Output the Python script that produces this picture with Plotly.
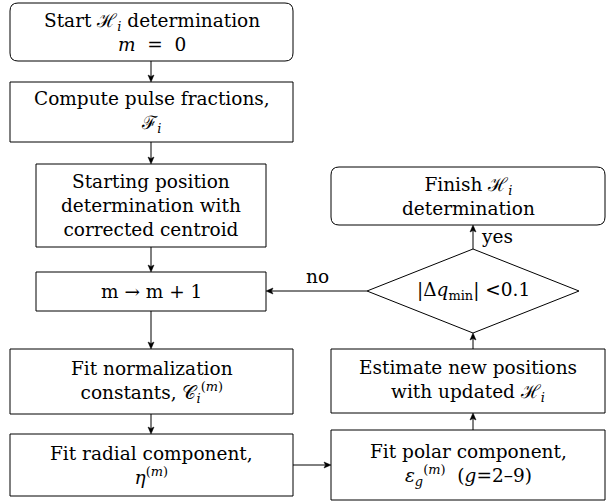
import plotly.graph_objects as go

# ---- content ----
node_labels = [
    "Start ℋ<sub><i>i</i></sub> determination<br><i>m</i>\u00a0\u00a0=\u00a0\u00a00",
    "Compute pulse fractions,<br>ℱ<sub><i>i</i></sub>",
    "Starting position<br>determination with<br>corrected centroid",
    "m → m + 1",
    "Fit normalization<br>constants, 𝒞<sub><i>i</i></sub><sup>(<i>m</i>)</sup>",
    "Fit radial component,<br><i>η</i><sup>(<i>m</i>)</sup>",
    "Fit polar component,<br><i>ε</i><sub><i>g</i></sub><sup>(<i>m</i>)</sup>\u00a0\u00a0(<i>g</i>=2–9)",
    "Estimate new positions<br>with updated ℋ<sub><i>i</i></sub>",
    "|Δ<i>q</i><sub>min</sub>| <0.1",
    "Finish ℋ<sub><i>i</i></sub><br>determination",
]
node_kinds = ["round", "box", "box", "box", "box", "box", "box", "box", "diamond", "round"]
edge_labels = ["", "", "", "", "", "", "", "", "yes", "no"]

# ---- layout geometry (pixels) ----
node_boxes = [
    (10, 3, 293, 61),
    (10, 82, 293, 142),
    (36, 164, 266, 247),
    (36, 272, 266, 311),
    (10, 349, 293, 414),
    (10, 434, 293, 496),
    (331, 430, 605, 500),
    (331, 349, 605, 413),
    (367, 249, 579, 333),
    (331, 167, 605, 225),
]
edges = [  # (tail x, tail y, head x, head y)
    (151, 61, 151, 82),
    (151, 142, 151, 164),
    (151, 247, 151, 272),
    (151, 311, 151, 349),
    (151, 414, 151, 434),
    (293, 465, 331, 465),
    (473, 430, 473, 413),
    (473, 349, 473, 333),
    (473, 249, 473, 225),
    (367, 291, 266, 291),
]
edge_label_pos = [None] * 8 + [(497, 236), (317, 276)]

FONT = dict(family="DejaVu Serif", size=18.5, color="black")
LINE = dict(color="black", width=1)

fig = go.Figure()
shapes = []
annotations = []

for kind, (x0, y0, x1, y1), label in zip(node_kinds, node_boxes, node_labels):
    if kind == "box":
        shapes.append(dict(type="rect", x0=x0, y0=y0, x1=x1, y1=y1,
                           xref="x", yref="y", line=LINE))
    elif kind == "round":
        r = 8
        path = (f"M {x0+r},{y0} L {x1-r},{y0} Q {x1},{y0} {x1},{y0+r} "
                f"L {x1},{y1-r} Q {x1},{y1} {x1-r},{y1} L {x0+r},{y1} "
                f"Q {x0},{y1} {x0},{y1-r} L {x0},{y0+r} Q {x0},{y0} {x0+r},{y0} Z")
        shapes.append(dict(type="path", path=path, xref="x", yref="y", line=LINE))
    else:
        cx, cy = (x0 + x1) / 2, (y0 + y1) / 2
        path = f"M {x0},{cy} L {cx},{y0} L {x1},{cy} L {cx},{y1} Z"
        shapes.append(dict(type="path", path=path, xref="x", yref="y", line=LINE))
    annotations.append(dict(x=(x0 + x1) / 2, y=(y0 + y1) / 2, text=label,
                            showarrow=False, xref="x", yref="y",
                            font=FONT, xanchor="center", yanchor="middle"))

# edges as scatter lines + filled arrowheads
HL, HW, NOTCH = 7.0, 3.0, 1.5  # arrowhead length, half-width, back notch
for (tx, ty, hx, hy), lab, pos in zip(edges, edge_labels, edge_label_pos):
    dx, dy = hx - tx, hy - ty
    L = (dx * dx + dy * dy) ** 0.5
    ux, uy = dx / L, dy / L
    px, py = -uy, ux
    bx, by = hx - ux * HL, hy - uy * HL
    fig.add_trace(go.Scatter(x=[tx, bx + ux * NOTCH], y=[ty, by + uy * NOTCH],
                             mode="lines", line=dict(color="black", width=1),
                             hoverinfo="skip"))
    fig.add_trace(go.Scatter(
        x=[hx, bx + px * HW, bx + ux * NOTCH, bx - px * HW, hx],
        y=[hy, by + py * HW, by + uy * NOTCH, by - py * HW, hy],
        mode="lines", fill="toself", fillcolor="black",
        line=dict(color="black", width=0.5), hoverinfo="skip"))
    if lab:
        annotations.append(dict(x=pos[0], y=pos[1], text=lab, showarrow=False,
                                xref="x", yref="y", font=FONT,
                                xanchor="center", yanchor="middle"))

fig.update_layout(
    width=607, height=503,
    margin=dict(l=0, r=0, t=0, b=0),
    paper_bgcolor="white", plot_bgcolor="white",
    xaxis=dict(range=[0, 607], visible=False, fixedrange=True),
    yaxis=dict(range=[503, 0], visible=False, fixedrange=True),
    shapes=shapes, annotations=annotations, showlegend=False,
)
fig.write_html("out.html", config={"displayModeBar": False},
               post_script="document.body.style.margin='0';")
